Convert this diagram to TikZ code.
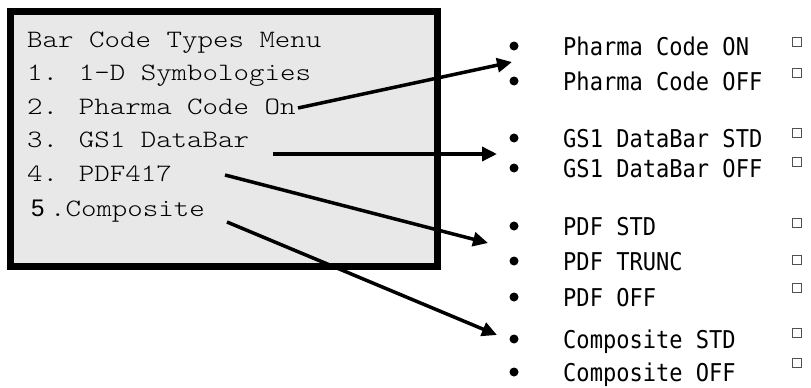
\documentclass[tikz,border=0pt]{standalone}
\usepackage{fontspec}
\usepackage{xcolor}
\usepackage{tikz}
\usetikzlibrary{arrows.meta}
\newfontfamily\menufont[FakeStretch=1.18]{Latin Modern Mono Light}
\newfontfamily\numfont{Liberation Sans}
\newfontfamily\optfont[FakeStretch=0.9]{DejaVu Sans Mono}
\definecolor{menugray}{RGB}{232,232,232}
\definecolor{chkgray}{RGB}{80,80,80}

\begin{document}
\begin{tikzpicture}[x=1pt,y=-1pt,>={Triangle[length=15pt,width=14pt]},
menu/.style={anchor=base west,inner sep=0pt,font=\menufont\fontsize{25}{30}\selectfont},
opt/.style={anchor=base west,inner sep=0pt,font=\optfont\fontsize{24.5}{28}\selectfont},
bul/.style={circle,fill,inner sep=0pt,minimum size=9pt},
chk/.style={rectangle,draw=chkgray,line width=0.8pt,inner sep=0pt,minimum size=9pt},
pointer/.style={->,line width=3.5pt}]
\useasboundingbox(0,0)rectangle(811,388);
\draw[line width=7pt,fill=menugray](10.5,11.5)rectangle(437.5,266.5);
\node[menu](m0)at(27,47){Bar Code Types Menu};
\node[menu](m1)at(27,80.5){1. 1-D Symbologies};
\node[menu](m2)at(27,114){2. Pharma Code On};
\node[menu](m3)at(27,147.5){3. GS1 DataBar};
\node[menu](m4)at(27,181){4. PDF417};
\node[menu](m5)at(31,216){{\numfont\fontsize{24}{28}\selectfont 5}\kern5.5pt.Composite};
\node[opt](o1)at(563,55){Pharma Code ON};
\node[opt](o2)at(563,90){Pharma Code OFF};
\node[opt](o3)at(563,147){GS1 DataBar STD};
\node[opt](o4)at(563,177){GS1 DataBar OFF};
\node[opt](o5)at(563,235){PDF STD};
\node[opt](o6)at(563,270){PDF TRUNC};
\node[opt](o7)at(563,306){PDF OFF};
\node[opt](o8)at(563,348){Composite STD};
\node[opt](o9)at(563,381){Composite OFF};
\foreach \i/\y in {1/46,2/81,3/138,4/168,5/226,6/261,7/297,8/339,9/372}
  \node[bul](b\i)at(514,\y){};
\foreach \i/\y in {1/42,2/73,3/133,4/162,5/223,6/260,7/288,8/333,9/363}
  \node[chk](c\i)at(797,\y){};
\coordinate(s1)at(298,108);\coordinate(t1)at(512,62);
\coordinate(s2)at(273,154);\coordinate(t2)at(497,154);
\coordinate(s3)at(225,175);\coordinate(t3)at(488,243);
\coordinate(s4)at(227,222);\coordinate(t4)at(497,335);
\draw[pointer](s1)--(t1);
\draw[pointer](s2)--(t2);
\draw[pointer](s3)--(t3);
\draw[pointer](s4)--(t4);
\end{tikzpicture}
\end{document}
